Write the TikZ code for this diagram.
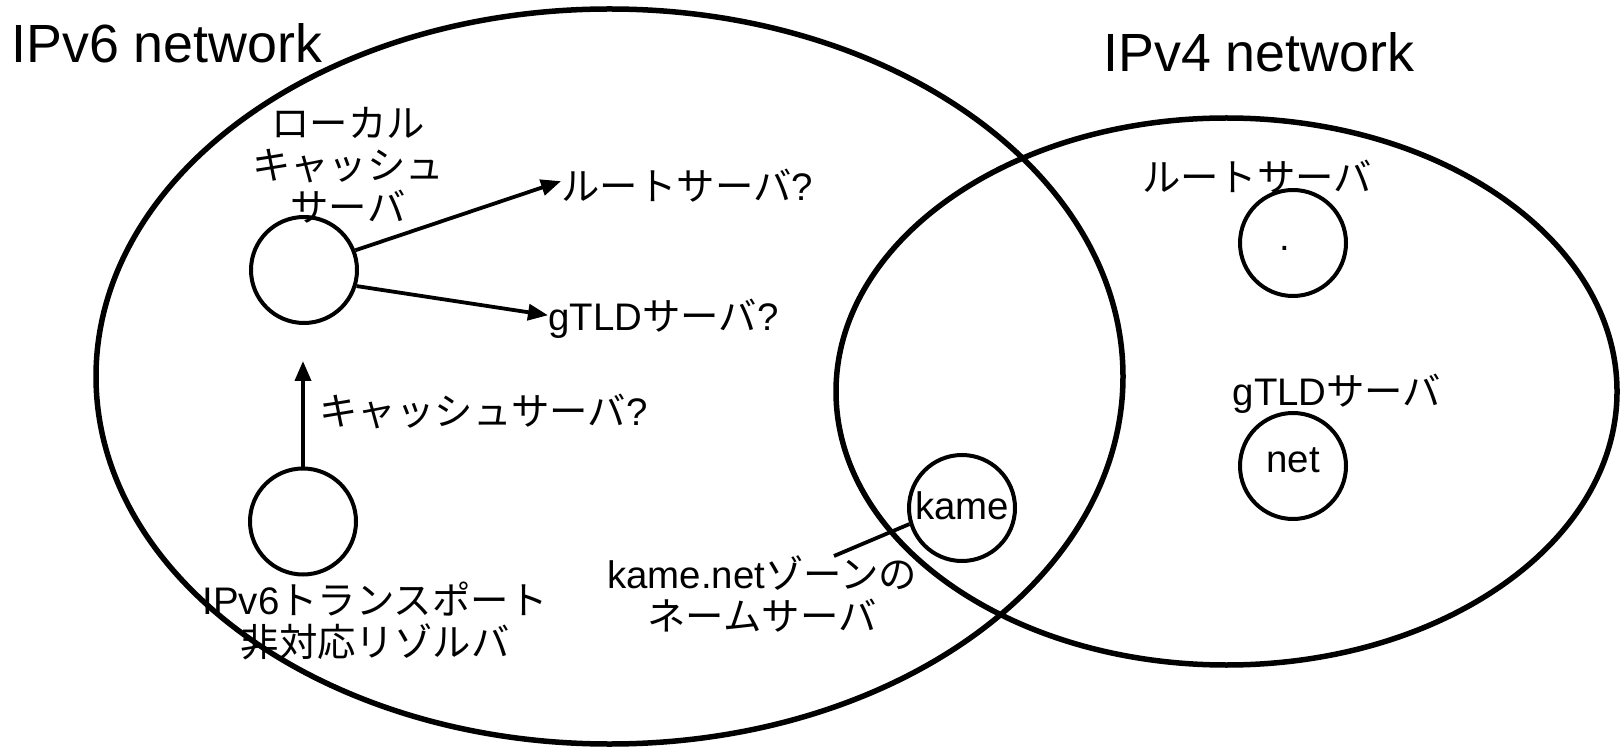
\documentclass[tikz,border=0pt]{standalone}
\usepackage{fontspec}
\setmainfont{Liberation Sans}
\newfontfamily\jp{Noto Sans CJK JP}
\usetikzlibrary{arrows.meta}
\begin{document}
\begin{tikzpicture}[x=0.5pt,y=-0.5pt,
  netline/.style={line width=2.75pt},
  srv/.style={circle,draw,line width=2pt,minimum size=53pt,inner sep=0pt,
    font=\fontsize{19.2}{21}\selectfont,text height=0.68em,text depth=0pt},
  lbl/.style={inner sep=0pt,font=\fontsize{19.2}{21}\selectfont},
  ttl/.style={inner sep=0pt,font=\fontsize{26.9}{30}\selectfont},
  arr/.style={line width=1.9pt,-{Triangle[length=10pt,width=8pt]}},
  plain/.style={line width=1.9pt}
]
\useasboundingbox (0,0) rectangle (1621,748);
% networks
\draw[netline] (609.5,376.5) ellipse [x radius=256.75pt, y radius=183.75pt];
\draw[netline] (1226.5,391.5) ellipse [x radius=195.25pt, y radius=136.75pt];
\node[ttl, anchor=base west] (v6) at (11,63) {IPv6 network};
\node[ttl, anchor=base west] (v4) at (1103,72) {IPv4 network};
% servers
\node[srv] (cache) at (304,270) {};
\node[srv] (resolver) at (303,521.5) {};
\node[srv, text height=1.1em] (kame) at (962,508) {kame};
\node[srv, text height=0.8em] (root) at (1293,243) {.\hspace*{8pt}};
\node[srv, text height=0.66em] (net) at (1293,466) {net};
% labels
\node[lbl, align=center, anchor=base] (cachelbl) at (348,222) {{\jp ローカル}\\{\jp キャッシュ}\\{\jp サーバ}};
\node[lbl, anchor=base west] (rootq) at (561,201) {{\jp ルートサーバ}?};
\node[lbl, anchor=base west] (gtldq) at (548,331) {gTLD{\jp サーバ}?};
\node[lbl, anchor=base west] (askq) at (319,425) {{\jp キャッシュサーバ}?};
\node[lbl, align=center, anchor=base] (reslbl) at (375,656) {IPv6{\jp トランスポート}\\{\jp 非対応リゾルバ}};
\node[lbl, align=center, anchor=base] (zonelbl) at (762,630) {kame.net{\jp ゾーンの}\\{\jp ネームサーバ}};
\node[lbl, anchor=base] (rootlbl) at (1257,192) {\jp ルートサーバ};
\node[lbl, anchor=base] (gtldlbl) at (1337,405) {gTLD{\jp サーバ}};
% connectors
\draw[arr] (cache.21) -- ([yshift=2.5pt]rootq.west);
\draw[arr] (cache.-17) -- ([yshift=2pt]gtldq.west);
\coordinate (askhead) at (303,361);
\draw[arr] (resolver.north) -- (askhead);
\coordinate (zonetip) at (834,556);
\draw[plain] (kame.197) -- (zonetip);
\end{tikzpicture}
\end{document}
